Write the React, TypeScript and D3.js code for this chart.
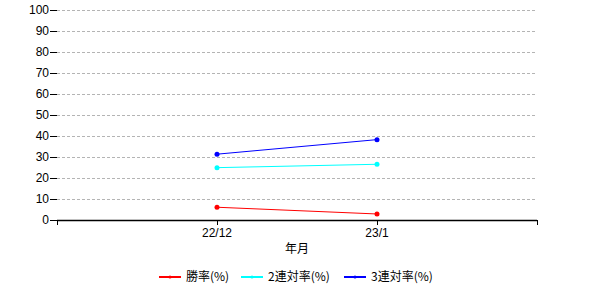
import React from "react";
import * as d3 from "d3";

const categories = ["22/12", "23/1"];
const seriesNames = ["勝率(%)", "2連対率(%)", "3連対率(%)"];
const seriesColors = ["#ff0000", "#00ffff", "#0000ff"];
const winRate = [6.2, 3.0];
const top2Rate = [25.0, 26.6];
const top3Rate = [31.4, 38.3];
const yTicks = [0, 10, 20, 30, 40, 50, 60, 70, 80, 90, 100];

const series = [winRate, top2Rate, top3Rate];

export default function App() {
  const W = 600, H = 300;
  const left = 57, right = 537, top = 9.7, bottom = 220.3;
  const x = d3.scaleLinear().domain([0, categories.length + 1]).range([left, right]);
  const y = d3.scaleLinear().domain([0, 100]).range([bottom, top]);
  const line = d3.line<number>().x((_, i) => x(i + 1)).y((d) => y(d));
  const font = "'Liberation Sans', Arial, sans-serif";
  const xTickVals = d3.range(0, categories.length + 2);
  const legendX = [159, 241, 344];
  return (
    <svg width={W} height={H} style={{ position: "absolute", left: 0, top: 0 }} fontFamily={font}>
      <rect width={W} height={H} fill="#fff" />
      {yTicks.map((t) => (
        <g key={t}>
          {t > 0 && (
            <line x1={left} x2={right} y1={Math.round(y(t)) + 0.5} y2={Math.round(y(t)) + 0.5} stroke="#b4b4b4" strokeDasharray="3,2" />
          )}
          <line x1={50} x2={left} y1={Math.round(y(t)) + 0.5} y2={Math.round(y(t)) + 0.5} stroke="#000" />
          <text x={49} y={y(t) + 4} textAnchor="end" fontSize={12} fill="#000">{t}</text>
        </g>
      ))}
      <line x1={left} x2={right} y1={220.5} y2={220.5} stroke="#000" strokeWidth={1.5} />
      {xTickVals.map((v) => (
        <line key={v} x1={Math.round(x(v)) + 0.5} x2={Math.round(x(v)) + 0.5} y1={220} y2={225} stroke="#000" />
      ))}
      {categories.map((c, i) => (
        <text key={c} x={x(i + 1)} y={237} textAnchor="middle" fontSize={12}>{c}</text>
      ))}
      <text x={297} y={253} textAnchor="middle" fontSize={12} fontFamily="'Noto Sans CJK JP', sans-serif">年月</text>
      {series.map((s, si) => (
        <g key={si}>
          <path d={line(s) || ""} fill="none" stroke={seriesColors[si]} strokeWidth={1} />
          {s.map((v, i) => (
            <circle key={i} cx={x(i + 1)} cy={y(v)} r={2.5} fill={seriesColors[si]} />
          ))}
        </g>
      ))}
      {seriesNames.map((n, i) => (
        <g key={n}>
          <line x1={legendX[i]} x2={legendX[i] + 22} y1={277} y2={277} stroke={seriesColors[i]} strokeWidth={2} />
          <circle cx={legendX[i] + 11} cy={277} r={1.5} fill={seriesColors[i]} />
          <text x={legendX[i] + 27} y={281} fontSize={12} fontFamily="'Noto Sans CJK JP', sans-serif">{n}</text>
        </g>
      ))}
    </svg>
  );
}
